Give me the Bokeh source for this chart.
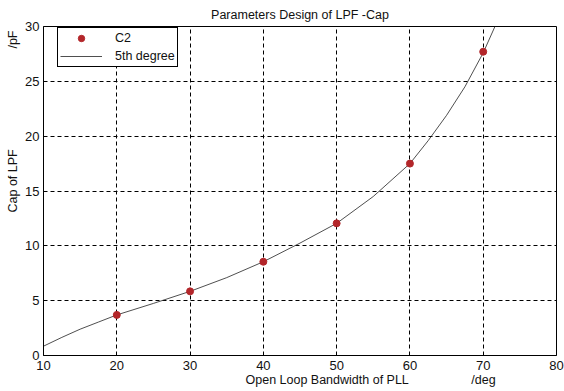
from bokeh.plotting import figure
from bokeh.models import Range1d, FixedTicker, Legend, LegendItem, Title
from bokeh.embed import file_html
from bokeh.resources import INLINE

# ---- data ----
bw_points = [20, 30, 40, 50, 60, 70]
c2_points = [3.7, 5.85, 8.55, 12.05, 17.5, 27.7]

bw_fit = [10, 12.5, 15, 17.5, 20, 25, 30, 35, 40, 45, 50, 55, 60, 62.5, 65, 67.5, 70, 71.6]
c2_fit = [0.85, 1.65, 2.4, 3.05, 3.7, 4.75, 5.85, 7.1, 8.55, 10.25, 12.05, 14.5, 17.5, 19.6, 21.9, 24.5, 27.6, 30.0]

x_ticks = [10, 20, 30, 40, 50, 60, 70, 80]
y_ticks = [0, 5, 10, 15, 20, 25, 30]

title_text = "Parameters Design of LPF -Cap"
xlabel_text = "Open Loop Bandwidth of PLL"
xunit_text = "/deg"
ylabel_text = "Cap of LPF"
yunit_text = "/pF"
series_names = ["C2", "5th degree"]

FONT = "Liberation Sans"
NB = "\u00a0"

p = figure(width=564, height=391, output_backend="svg", toolbar_location=None,
           x_range=Range1d(10, 80), y_range=Range1d(0, 30),
           min_border_left=43, min_border_right=8, min_border_top=25, min_border_bottom=36)

p.background_fill_color = "white"
p.border_fill_color = "white"
p.outline_line_color = "black"
p.outline_line_alpha = 1
p.outline_line_width = 1

p.title.text = title_text
p.title.align = "center"
p.title.text_font = FONT
p.title.text_font_size = "12.5px"
p.title.text_font_style = "normal"
p.title.text_color = "#111111"

for ax in (p.xaxis[0], p.yaxis[0]):
    ax.axis_line_color = "black"
    ax.major_tick_in = 0
    ax.major_tick_out = 0
    ax.minor_tick_line_color = None
    ax.major_label_text_font = FONT
    ax.major_label_text_font_size = "13px"
    ax.major_label_text_color = "#111111"

p.xaxis.ticker = FixedTicker(ticks=x_ticks)
p.yaxis.ticker = FixedTicker(ticks=y_ticks)
p.xaxis.major_label_standoff = 5
p.yaxis.major_label_standoff = 4

p.xgrid.ticker = FixedTicker(ticks=x_ticks)
p.ygrid.ticker = FixedTicker(ticks=y_ticks)
for g in (p.xgrid[0], p.ygrid[0]):
    g.grid_line_color = "black"
    g.grid_line_alpha = 1
    g.grid_line_width = 1
    g.grid_line_dash = "4 3"

line_r = p.line(bw_fit, c2_fit, line_color="#222222", line_width=0.8)
pts_r = p.scatter(bw_points, c2_points, size=7, fill_color="#b3262a", line_color="#b3262a")

legend = Legend(items=[LegendItem(label=series_names[0], renderers=[pts_r]),
                       LegendItem(label=series_names[1], renderers=[line_r])],
                location=(14, 288), margin=0, padding=2, spacing=2,
                label_height=16, glyph_height=16, glyph_width=42, label_standoff=13,
                label_text_font=FONT, label_text_font_size="12.5px", label_text_color="#111111",
                border_line_color="black", border_line_alpha=1, border_line_width=1,
                background_fill_color="white", background_fill_alpha=1)
p.add_layout(legend, "center")

xt = Title(text=xlabel_text + NB * 18 + xunit_text, align="left", offset=202, standoff=0,
           vertical_align="top",
           text_font=FONT, text_font_size="12.5px", text_font_style="normal", text_color="#111111")
p.add_layout(xt, "below")

yt = Title(text=ylabel_text + NB * 29 + yunit_text, align="left", offset=143, standoff=5,
           text_font=FONT, text_font_size="12.5px", text_font_style="normal", text_color="#111111")
p.add_layout(yt, "left")

open("out.html", "w").write(file_html(p, INLINE))
